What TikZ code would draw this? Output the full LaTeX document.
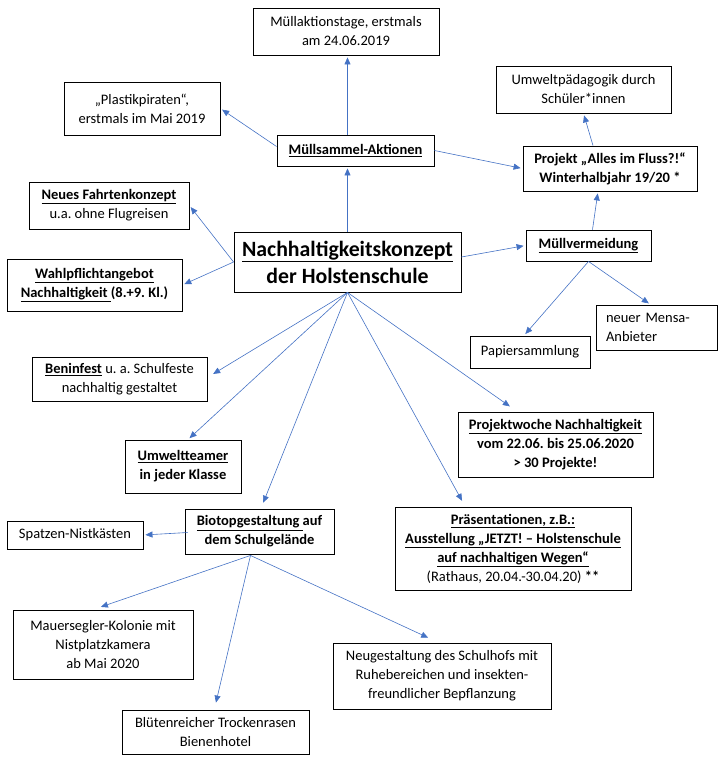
\documentclass[tikz,border=0pt]{standalone}
\usepackage{fontspec}
\setmainfont{Carlito}
\usetikzlibrary{arrows.meta,calc}
\definecolor{arr}{RGB}{68,114,196}
\frenchspacing
\begin{document}
\begin{tikzpicture}[x=1pt,y=-1pt,
 box/.style={draw=black,line width=0.9pt,inner sep=0pt,align=center,font=\fontsize{14.5}{19}\selectfont\frenchspacing},
 con/.style={draw=arr,line width=0.6pt,-{Triangle[length=7pt,width=6pt]},shorten >=2pt}]
\useasboundingbox (0,0) rectangle (725,766);
\node[box,minimum width=186pt,minimum height=47pt] (mat) at (346,31.5) {Müllaktionstage, erstmals\\am 24.06.2019};
\node[box,minimum width=156pt,minimum height=53pt] (plast) at (142,108.5) {„Plastikpiraten“,\\erstmals im Mai 2019};
\node[box,minimum width=157pt,minimum height=31pt] (ms) at (355.5,150.5) {\bfseries\underline{Müllsammel-Aktionen}};
\node[box,minimum width=175pt,minimum height=47pt] (umwp) at (583.5,89.5) {Umweltpädagogik durch\\Schüler*innen};
\node[box,minimum width=174pt,minimum height=45pt] (fluss) at (610,168.5) {\bfseries Projekt „Alles im Fluss?!“\\\bfseries Winterhalbjahr 19/20 *};
\node[box,minimum width=160pt,minimum height=47pt] (fahrt) at (109,205.5) {\textbf{\underline{Neues Fahrtenkonzept}}\\u.a. ohne Flugreisen};
\node[box,minimum width=227pt,minimum height=60pt,font=\fontsize{21.8}{27}\selectfont\bfseries] (main) at (347.5,262) {\underline{Nachhaltigkeitskonzept}\\der Holstenschule};
\node[box,minimum width=125pt,minimum height=31pt] (mv) at (588.5,245.5) {\bfseries\underline{Müllvermeidung}};
\node[box,minimum width=175pt,minimum height=52pt] (wahl) at (94.5,285) {\bfseries\underline{Wahlpflichtangebot}\\\bfseries\underline{Nachhaltigkeit~}(8.+9. Kl.)};
\node[box,minimum width=120pt,minimum height=32pt] (papier) at (530,352) {Papiersammlung};
\node[box,minimum width=121pt,minimum height=45pt,text width=101pt,align=left] (mensa) at (656.5,327.5) {neuer Mensa-\\Anbieter};
\node[box,minimum width=175pt,minimum height=44pt] (benin) at (119.5,379) {\textbf{\underline{Beninfest}} u. a. Schulfeste\\nachhaltig gestaltet};
\node[box,minimum width=116pt,minimum height=53pt] (umwelt) at (183,466.5) {\bfseries\underline{Umweltteamer}\\\bfseries in jeder Klasse};
\node[box,minimum width=195pt,minimum height=65pt] (pw) at (555.5,444.5) {\bfseries\underline{Projektwoche Nachhaltigkeit}\\\bfseries vom 22.06. bis 25.06.2020\\\bfseries > 30 Projekte!};
\node[box,minimum width=149pt,minimum height=45pt] (bio) at (259.5,531.5) {\bfseries\underline{Biotopgestaltung~}auf\\\bfseries dem Schulgelände};
\node[box,minimum width=136pt,minimum height=28pt] (spatz) at (75,535) {Spatzen-Nistkästen};
\node[box,minimum width=236pt,minimum height=83pt] (pr) at (513,548.5) {\bfseries\underline{Präsentationen, z.B.:}\\\bfseries\underline{Ausstellung „JETZT! – Holstenschule}\\\bfseries\underline{auf nachhaltigen Wegen“}\\(Rathaus, 20.04.-30.04.20) \textbf{**}};
\node[box,minimum width=180pt,minimum height=69pt] (mauer) at (103,644.5) {Mauersegler-Kolonie mit\\Nistplatzkamera\\ab Mai 2020};
\node[box,minimum width=218pt,minimum height=66pt] (neu) at (442,676) {Neugestaltung des Schulhofs mit\\Ruhebereichen und insekten-\\freundlicher Bepflanzung};
\node[box,minimum width=187pt,minimum height=44pt] (blut) at (215.5,732) {Blütenreicher Trockenrasen\\Bienenhotel};
% connectors
\draw[con] (main.north) -- (main.north |- ms.south);
\draw[con] (main.north |- ms.north) -- (main.north |- mat.south);
\draw[con] ($(ms.west)+(0,-4)$) -- (plast.east);
\draw[con] (ms.east) -- (fluss.west);
\draw[con] (main.west) -- (fahrt.east);
\draw[con] (main.west) -- (wahl.east);
\draw[con] ($(main.east)+(0,-5)$) -- (mv.west);
\draw[con] ($(mv.north)+(4,0)$) -- ($(fluss.south)+(-12,0)$);
\draw[con] ($(fluss.north)+(-17,0)$) -- (umwp.south);
\draw[con] (mv.south) -- ($(papier.north)+(-6,0)$);
\draw[con] (mv.south) -- ($(mensa.north)+(-6,0)$);
\draw[con] (main.south) -- ($(benin.east)+(4,-4)$);
\draw[con] (main.south) -- ($(umwelt.north)+(5,0)$);
\draw[con] (main.south) -- ($(bio.north)+(3,-4)$);
\draw[con] (main.south) -- ($(pw.north)+(-44,-4)$);
\draw[con] (main.south) -- ($(pr.north)+(-50,-4)$);
\draw[con] ($(bio.west)+(3,1)$) -- (spatz.east);
\coordinate (bsrc) at ($(bio.south)+(-9,1)$);
\draw[con] (bsrc) -- ($(mauer.north)+(-4,-2)$);
\draw[con] (bsrc) -- ($(blut.north)+(0,-5)$);
\draw[con] (bsrc) -- ($(neu.north)+(-12,-4)$);
\end{tikzpicture}
\end{document}
